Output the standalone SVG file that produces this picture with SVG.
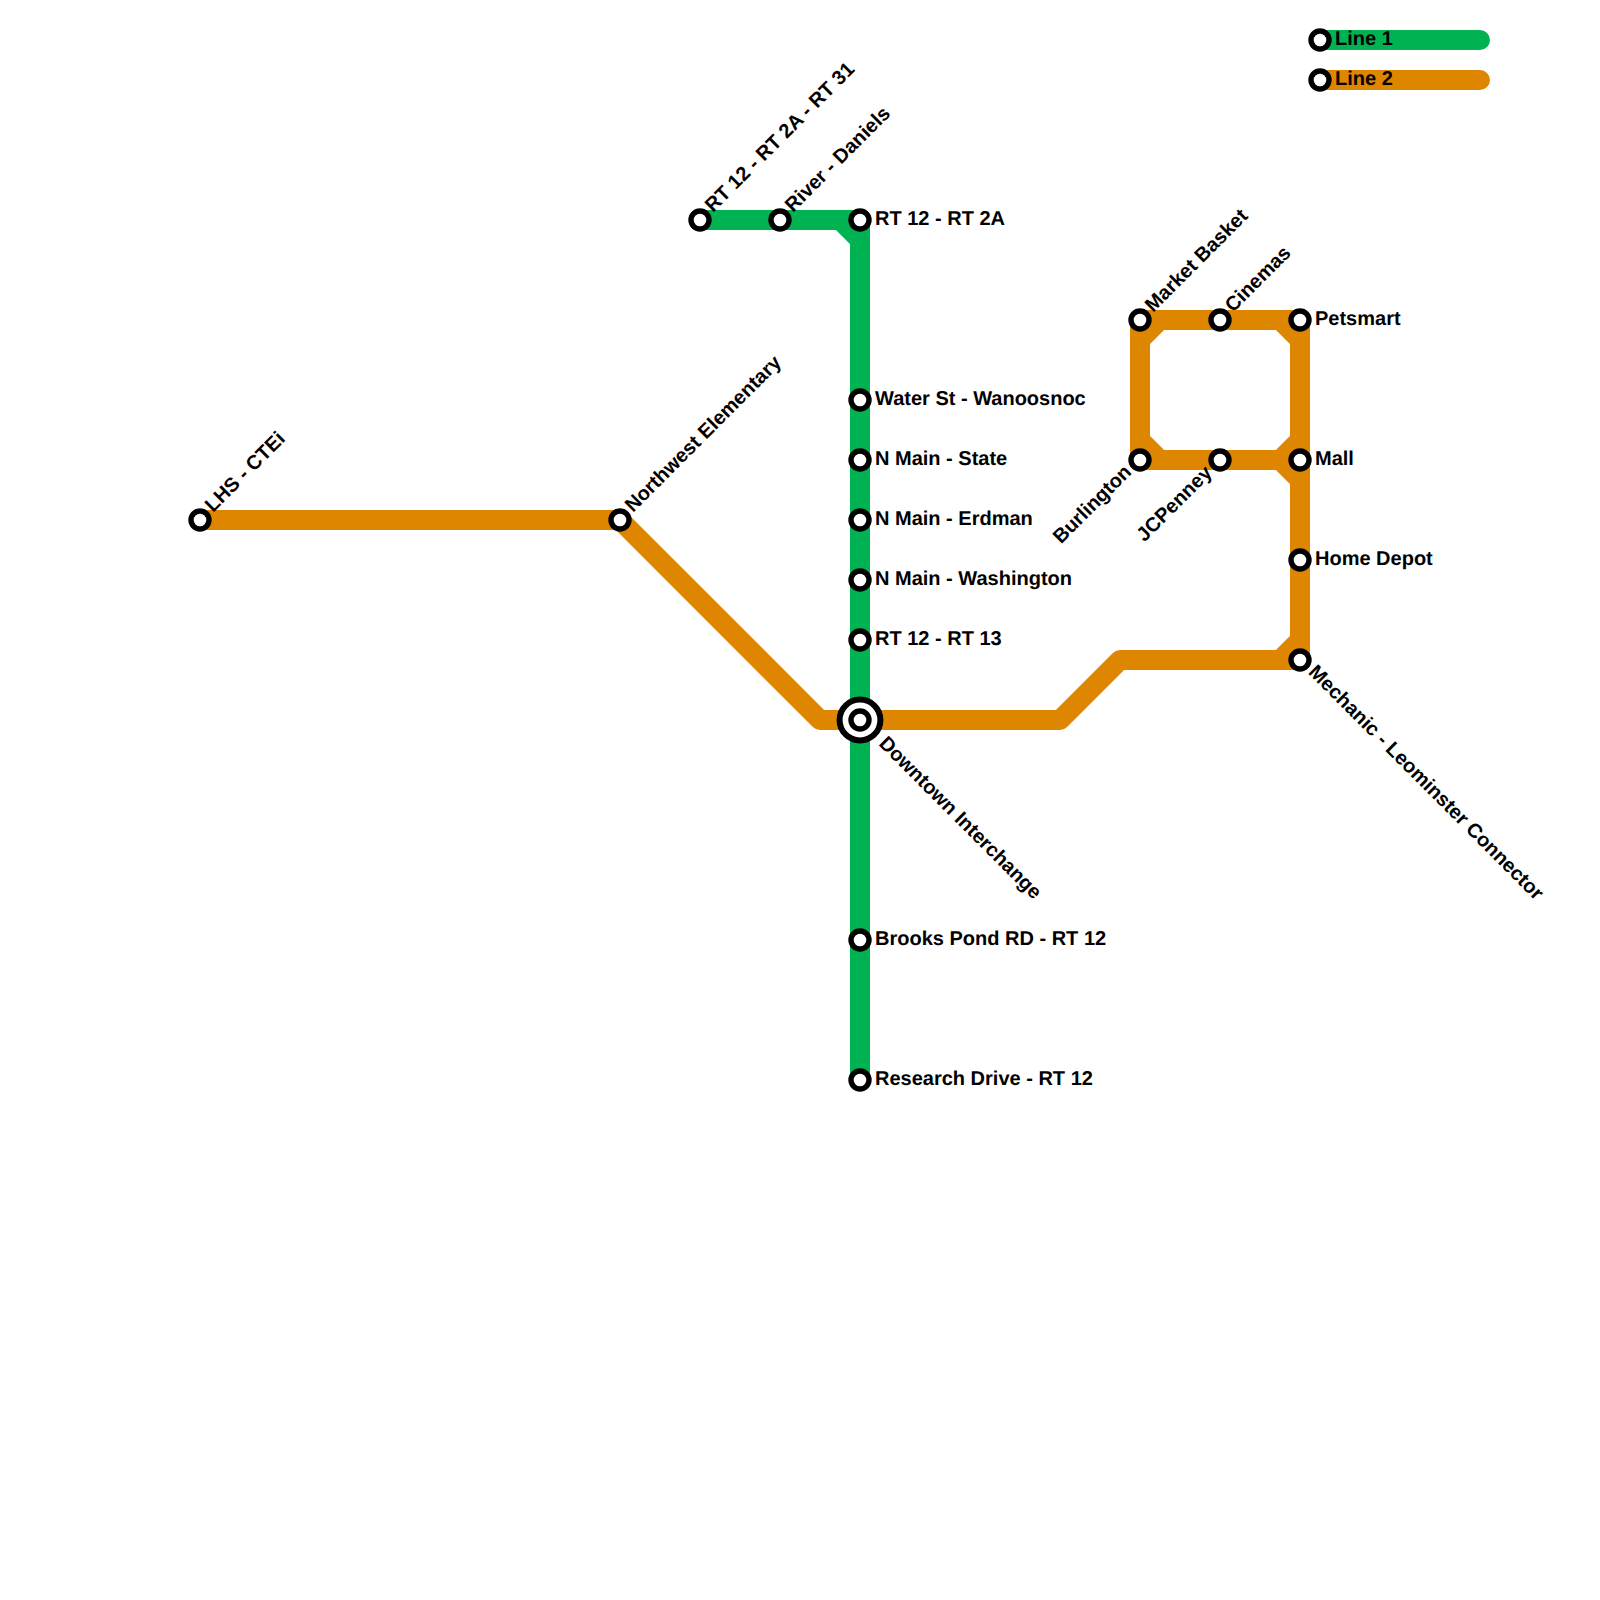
<svg xmlns="http://www.w3.org/2000/svg" width="1600" height="1600" viewBox="0 0 1600 1600">
<style>
.l{fill:none;stroke-width:20;stroke-linejoin:round}
.g{stroke:#00b251}.o{stroke:#df8600}
.c{stroke-linecap:round}
.s{fill:#fff;stroke:#000;stroke-width:5.4}
text{font-family:"Liberation Sans",Arial,sans-serif;font-weight:700;font-size:20px;fill:#000;text-rendering:geometricPrecision}
.e{text-anchor:end}
</style>
<rect width="1600" height="1600" fill="#fff"/>
<g id="connectors">
<path class="l o" d="M200 520H620L820 720H1060L1120 660H1300V320H1140V460H1300"/>
<path class="l o" d="M1280 320L1300 340M1140 340L1160 320M1140 440L1160 460M1280 460L1300 440M1280 460L1300 480M1280 660L1300 640"/>
<path class="l g" d="M700 220H860V1080M840 220L860 240"/>
<path class="l g c" d="M1320 40H1480"/>
<path class="l o c" d="M1320 80H1480"/>
</g>
<g id="n-lhs"><circle class="s" cx="200" cy="520" r="9"/><text transform="translate(213 513) rotate(-45)">LHS - CTEi</text></g>
<g id="n-northwest"><circle class="s" cx="620" cy="520" r="9"/><text transform="translate(633 513) rotate(-45)">Northwest Elementary</text></g>
<g id="n-rt31"><circle class="s" cx="700" cy="220" r="9"/><text transform="translate(713 213) rotate(-45)">RT 12 - RT 2A - RT 31</text></g>
<g id="n-river"><circle class="s" cx="780" cy="220" r="9"/><text transform="translate(793 213) rotate(-45)">River - Daniels</text></g>
<g id="n-rt2a"><circle class="s" cx="860" cy="220" r="9"/><text x="875" y="225">RT 12 - RT 2A</text></g>
<g id="n-water"><circle class="s" cx="860" cy="400" r="9"/><text x="875" y="404.5">Water St - Wanoosnoc</text></g>
<g id="n-state"><circle class="s" cx="860" cy="460" r="9"/><text x="875" y="464.5">N Main - State</text></g>
<g id="n-erdman"><circle class="s" cx="860" cy="520" r="9"/><text x="875" y="524.5">N Main - Erdman</text></g>
<g id="n-washington"><circle class="s" cx="860" cy="580" r="9"/><text x="875" y="584.5">N Main - Washington</text></g>
<g id="n-rt13"><circle class="s" cx="860" cy="640" r="9"/><text x="875" y="644.5">RT 12 - RT 13</text></g>
<g id="n-downtown"><circle cx="860" cy="720" r="20.4" fill="#fff" stroke="#000" stroke-width="6"/><circle class="s" cx="860" cy="720" r="9"/><text transform="translate(878 744.5) rotate(45)">Downtown Interchange</text></g>
<g id="n-brooks"><circle class="s" cx="860" cy="940" r="9"/><text x="875" y="944.5">Brooks Pond RD - RT 12</text></g>
<g id="n-research"><circle class="s" cx="860" cy="1080" r="9"/><text x="875" y="1084.5">Research Drive - RT 12</text></g>
<g id="n-market"><circle class="s" cx="1140" cy="320" r="9"/><text transform="translate(1153 313) rotate(-45)">Market Basket</text></g>
<g id="n-cinemas"><circle class="s" cx="1220" cy="320" r="9"/><text transform="translate(1233 313) rotate(-45)">Cinemas</text></g>
<g id="n-petsmart"><circle class="s" cx="1300" cy="320" r="9"/><text x="1315" y="324.5">Petsmart</text></g>
<g id="n-burlington"><circle class="s" cx="1140" cy="460" r="9"/><text class="e" transform="translate(1132.5 473) rotate(-45)">Burlington</text></g>
<g id="n-jcpenney"><circle class="s" cx="1220" cy="460" r="9"/><text class="e" transform="translate(1213 474) rotate(-45)">JCPenney</text></g>
<g id="n-mall"><circle class="s" cx="1300" cy="460" r="9"/><text x="1315" y="464.5">Mall</text></g>
<g id="n-homedepot"><circle class="s" cx="1300" cy="560" r="9"/><text x="1315" y="564.5">Home Depot</text></g>
<g id="n-mechanic"><circle class="s" cx="1300" cy="660" r="9"/><text transform="translate(1307.5 673) rotate(45)">Mechanic - Leominster Connector</text></g>
<g id="legend-1"><circle class="s" cx="1320" cy="40" r="9"/><text x="1335" y="45">Line 1</text></g>
<g id="legend-2"><circle class="s" cx="1320" cy="80" r="9"/><text x="1335" y="85">Line 2</text></g>
</svg>
